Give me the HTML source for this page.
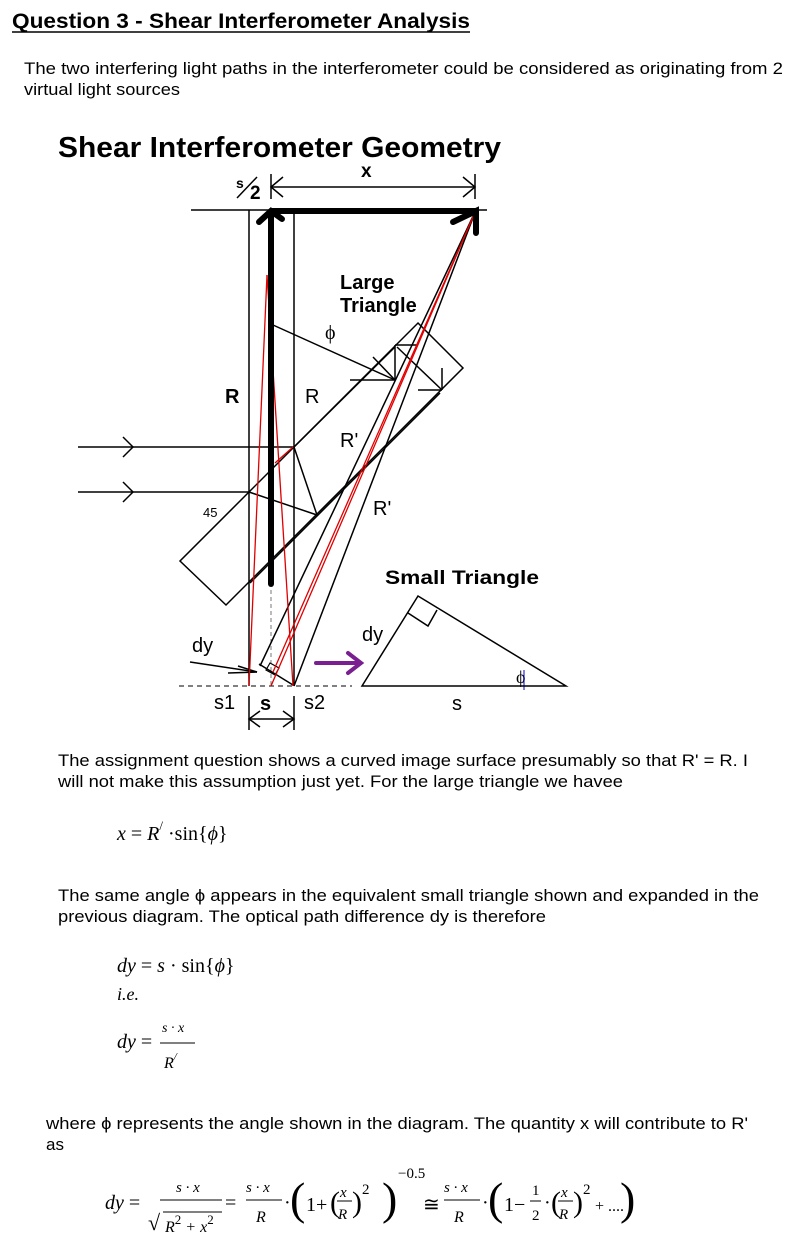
<!DOCTYPE html>
<html><head><meta charset="utf-8"><style>
html,body{margin:0;padding:0;background:#fff;}
svg{display:block;}
.t{font-family:"Liberation Sans",sans-serif;}
.m{font-family:"Liberation Serif",serif;font-style:italic;}
.r{font-family:"Liberation Serif",serif;}
</style></head><body>
<svg width="812" height="1254" viewBox="0 0 812 1254" xmlns="http://www.w3.org/2000/svg">
<g class="t" fill="#000">
<text x="12" y="28" font-size="21" font-weight="bold" textLength="458" lengthAdjust="spacingAndGlyphs">Question 3 - Shear Interferometer Analysis</text>
<line x1="12" y1="32" x2="470" y2="32" stroke="#000" stroke-width="1.5"/>
<text x="24" y="74" font-size="17" textLength="759" lengthAdjust="spacingAndGlyphs">The two interfering light paths in the interferometer could be considered as originating from 2</text>
<text x="24" y="95" font-size="17" textLength="156" lengthAdjust="spacingAndGlyphs">virtual light sources</text>
<text x="58" y="157" font-size="29" font-weight="bold" textLength="443" lengthAdjust="spacingAndGlyphs">Shear Interferometer Geometry</text>
</g>
<g stroke="#000" fill="none" stroke-width="1.5">
<line x1="191" y1="210" x2="487" y2="210"/>
<line x1="271" y1="187" x2="475" y2="187"/>
<line x1="271" y1="174" x2="271" y2="199"/>
<line x1="475" y1="174" x2="475" y2="199"/>
<polyline points="283,177 271,187 283,197"/>
<polyline points="463,177 475,187 463,197"/>
<line x1="237" y1="198" x2="257" y2="177"/>
<line x1="249" y1="210" x2="249" y2="686"/>
<line x1="294" y1="210" x2="294" y2="686"/>
<line x1="179" y1="686" x2="352" y2="686" stroke-dasharray="5,4" stroke-width="1"/>
<line x1="271" y1="590" x2="271" y2="686" stroke-dasharray="4,3" stroke-width="1" stroke="#777"/>
<polygon points="418,323 463,368 226,605 180,561"/>
<line x1="294" y1="447" x2="395" y2="347"/>
<line x1="250" y1="583" x2="440" y2="393"/>
<line x1="273" y1="325" x2="395" y2="380"/>
<line x1="350" y1="380" x2="395" y2="380"/>
<line x1="373" y1="357" x2="395" y2="380"/>
<line x1="395" y1="345" x2="395" y2="380"/>
<line x1="395" y1="345" x2="418" y2="345"/>
<line x1="397" y1="347" x2="442" y2="390"/>
<line x1="442" y1="368" x2="442" y2="390"/>
<line x1="418" y1="390" x2="442" y2="390"/>
<line x1="78" y1="447" x2="294" y2="447"/>
<polyline points="123,437 133,447 123,457"/>
<line x1="78" y1="492" x2="249" y2="492"/>
<polyline points="123,482 133,492 123,502"/>
<line x1="249" y1="492" x2="317" y2="515"/>
<line x1="294" y1="447" x2="317" y2="515"/>
<line x1="260" y1="666" x2="476" y2="210"/>
<line x1="294" y1="686" x2="476" y2="210"/>
<line x1="259" y1="664" x2="293" y2="685"/>
<polygon points="270,663 279,668 275,675 266,670" stroke-width="1.2"/>
<line x1="190" y1="662" x2="257" y2="672"/>
<line x1="238" y1="666" x2="257" y2="672"/>
<line x1="228" y1="673" x2="257" y2="672"/>
<line x1="249" y1="696" x2="249" y2="730"/>
<line x1="294" y1="696" x2="294" y2="730"/>
<line x1="249" y1="719" x2="294" y2="719"/>
<polyline points="260,711 249,719 260,727"/>
<polyline points="283,711 294,719 283,727"/>
</g>
<g stroke="#e00000" stroke-width="1.3" fill="none">
<line x1="249" y1="686" x2="267" y2="275"/>
<line x1="267" y1="275" x2="293" y2="686"/>
<line x1="476" y1="210" x2="273" y2="672"/>
<line x1="476" y1="210" x2="271" y2="686"/>
<line x1="275" y1="463" x2="293" y2="447"/>
</g>
<g stroke="#000" stroke-width="6" stroke-linecap="round" fill="none">
<line x1="271" y1="212" x2="271" y2="584"/>
<line x1="271" y1="211" x2="476" y2="211"/>
<polyline points="259,222 271,211 282,219"/>
<polyline points="453,222 476,211 476,233"/>
</g>
<g class="t" fill="#000">
<text x="250" y="199" font-size="19" font-weight="bold">2</text>
<text x="236" y="188" font-size="14" font-weight="bold">s</text>
<text x="361" y="177" font-size="19" font-weight="bold">x</text>
<text x="340" y="289" font-size="20" font-weight="bold">Large</text>
<text x="340" y="312" font-size="20" font-weight="bold">Triangle</text>
<text x="225" y="403" font-size="20" font-weight="bold">R</text>
<text x="305" y="403" font-size="20">R</text>
<text x="340" y="447" font-size="20">R'</text>
<text x="373" y="515" font-size="20">R'</text>
<text x="203" y="517" font-size="13">45</text>
<text x="192" y="652" font-size="20">dy</text>
<text x="214" y="709" font-size="20">s1</text>
<text x="260" y="710" font-size="20" font-weight="bold">s</text>
<text x="304" y="709" font-size="20">s2</text>
<text x="385" y="584" font-size="19" font-weight="bold" textLength="154" lengthAdjust="spacingAndGlyphs">Small Triangle</text>
<text x="362" y="641" font-size="20">dy</text>
<text x="452" y="710" font-size="20">s</text>
</g>
<text class="r" x="325" y="339" font-size="20">ϕ</text>
<text class="r" x="516" y="683" font-size="18">ϕ</text>
<line x1="524" y1="670" x2="524" y2="690" stroke="#00c" stroke-width="1"/>
<g stroke="#7a1f8f" stroke-width="4" fill="none" stroke-linecap="round">
<line x1="316" y1="663" x2="358" y2="663"/>
<polyline points="348,653 361,663 348,673"/>
</g>
<g stroke="#000" stroke-width="1.5" fill="none">
<polygon points="362,686 566,686 418,596"/>
<polyline points="408,613 428,626 437,610"/>
</g>
<g class="t" fill="#000" font-size="17">
<text x="58" y="766" textLength="690" lengthAdjust="spacingAndGlyphs">The assignment question shows a curved image surface presumably so that R' = R. I</text>
<text x="58" y="787" textLength="565" lengthAdjust="spacingAndGlyphs">will not make this assumption just yet. For the large triangle we havee</text>
<text x="58" y="901" textLength="701" lengthAdjust="spacingAndGlyphs">The same angle ϕ appears in the equivalent small triangle shown and expanded in the</text>
<text x="58" y="922" textLength="488" lengthAdjust="spacingAndGlyphs">previous diagram. The optical path difference dy is therefore</text>
<text x="46" y="1129" textLength="702" lengthAdjust="spacingAndGlyphs">where ϕ represents the angle shown in the diagram. The quantity x will contribute to R'</text>
<text x="46" y="1150">as</text>
</g>
<g fill="#000" font-size="20">
<text x="117" y="840"><tspan class="m">x</tspan><tspan class="r"> = </tspan><tspan class="m">R</tspan><tspan class="r" font-size="13" dy="-10">/</tspan><tspan class="r" dy="10"> ·sin{</tspan><tspan class="m">ϕ</tspan><tspan class="r">}</tspan></text>
<text x="117" y="972"><tspan class="m">dy</tspan><tspan class="r"> = </tspan><tspan class="m">s</tspan><tspan class="r"> · sin{</tspan><tspan class="m">ϕ</tspan><tspan class="r">}</tspan></text>
<text x="117" y="1000" class="m" font-size="18">i.e.</text>
<text x="117" y="1048"><tspan class="m">dy</tspan><tspan class="r"> =</tspan></text>
<text x="162" y="1032" class="m" font-size="14">s · x</text>
<line x1="160" y1="1043" x2="195" y2="1043" stroke="#000" stroke-width="1"/>
<text x="164" y="1068" class="m" font-size="16">R<tspan font-size="11" dy="-8">/</tspan></text>
<text x="105" y="1209"><tspan class="m">dy</tspan><tspan class="r"> =</tspan></text>
<text x="176" y="1192" class="m" font-size="15">s · x</text>
<line x1="160" y1="1200" x2="222" y2="1200" stroke="#000" stroke-width="1"/>
<text x="148" y="1230" class="r" font-size="22">√</text>
<line x1="163" y1="1212" x2="222" y2="1212" stroke="#000" stroke-width="1"/>
<text x="165" y="1232" class="m" font-size="16">R<tspan font-size="13" dy="-8" class="r" font-style="normal">2</tspan><tspan dy="8" class="r"> + </tspan>x<tspan font-size="13" dy="-8" class="r" font-style="normal">2</tspan></text>
<text x="225" y="1209" class="r">=</text>
<text x="246" y="1192" class="m" font-size="15">s · x</text>
<line x1="246" y1="1200" x2="282" y2="1200" stroke="#000" stroke-width="1"/>
<text x="256" y="1222" class="m" font-size="16">R</text>
<text x="284" y="1209" class="r">·</text>
<text x="290" y="1214" class="r" font-size="46">(</text>
<text x="306" y="1211" class="r">1+</text>
<text x="330" y="1212" class="r" font-size="30">(</text>
<text x="340" y="1197" class="m" font-size="15">x</text>
<line x1="337" y1="1201" x2="352" y2="1201" stroke="#000" stroke-width="1"/>
<text x="338" y="1219" class="m" font-size="15">R</text>
<text x="352" y="1212" class="r" font-size="30">)</text>
<text x="362" y="1194" class="r" font-size="15">2</text>
<text x="382" y="1214" class="r" font-size="46">)</text>
<text x="398" y="1178" class="r" font-size="15">−0.5</text>
<text x="423" y="1211" class="r">≅</text>
<text x="444" y="1192" class="m" font-size="15">s · x</text>
<line x1="444" y1="1200" x2="480" y2="1200" stroke="#000" stroke-width="1"/>
<text x="454" y="1222" class="m" font-size="16">R</text>
<text x="482" y="1209" class="r">·</text>
<text x="488" y="1214" class="r" font-size="46">(</text>
<text x="504" y="1211" class="r">1−</text>
<text x="532" y="1195" class="r" font-size="15">1</text>
<line x1="530" y1="1201" x2="541" y2="1201" stroke="#000" stroke-width="1"/>
<text x="532" y="1220" class="r" font-size="15">2</text>
<text x="544" y="1209" class="r">·</text>
<text x="551" y="1212" class="r" font-size="30">(</text>
<text x="561" y="1197" class="m" font-size="15">x</text>
<line x1="558" y1="1201" x2="573" y2="1201" stroke="#000" stroke-width="1"/>
<text x="559" y="1219" class="m" font-size="15">R</text>
<text x="573" y="1212" class="r" font-size="30">)</text>
<text x="583" y="1194" class="r" font-size="15">2</text>
<text x="595" y="1211" class="r" font-size="16">+ ....</text>
<text x="620" y="1214" class="r" font-size="46">)</text>
</g>
</svg>
</body></html>
